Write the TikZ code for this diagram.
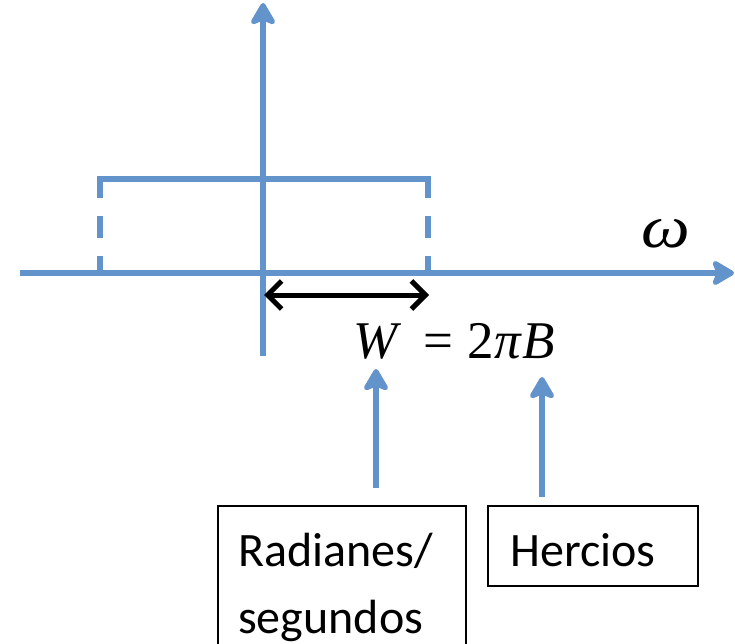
\documentclass[tikz,border=0pt]{standalone}
\usepackage{fontspec}
\setmainfont{Carlito}
\newfontfamily\tnr{Liberation Serif}
\usetikzlibrary{arrows.meta}
\definecolor{axisblue}{RGB}{98,148,203}
\tikzset{
  blueline/.style={draw=axisblue, line width=5.5pt},
  bluearrow/.style={blueline, -{Stealth[length=26pt,width=30pt,inset=6pt,round]}},
  lbl/.style={font=\fontsize{48}{58}\selectfont, inner sep=0pt, anchor=base west},
  mathlbl/.style={font=\tnr\fontsize{53}{60}\selectfont, inner sep=0pt, anchor=base west},
  box/.style={draw=black, line width=2pt, inner sep=0pt, anchor=north west},
}
\begin{document}
\begin{tikzpicture}[x=1pt,y=-1pt]
\useasboundingbox (0,0) rectangle (735,644);
% axis coordinates
\coordinate (xl) at (20,273);
\coordinate (xr) at (734,273);
\coordinate (yb) at (263,356);
\coordinate (yt) at (263,3);
% rectangle corners
\coordinate (tl) at (97.25,179);
\coordinate (tr) at (430.75,179);
\coordinate (lt) at (100,176.25);
\coordinate (lb) at (100,273);
\coordinate (rt) at (428,176.25);
\coordinate (rb) at (428,273);
% rectangle (pulse)
\draw[blueline] (tl) -- (tr);
\draw[blueline, dash pattern=on 22pt off 18pt] (lt) -- (lb);
\draw[blueline, dash pattern=on 22pt off 18pt] (rt) -- (rb);
% axes
\draw[bluearrow] (xl) -- (xr);
\draw[bluearrow] (yb) -- (yt);
% omega label
\node[mathlbl, font=\tnr\itshape\fontsize{60}{60}\selectfont] (omega) at (641,247) {\scalebox{1.15}[1]{ω}};
% width arrow
\coordinate (wl) at (264,295);
\coordinate (wr) at (429,295);
\draw[line width=5pt, {Straight Barb[length=14pt,width=28pt]}-{Straight Barb[length=14pt,width=28pt]}] (wl) -- (wr);
% formula
\node[mathlbl] (W) at (353,358) {\itshape W};
\node[mathlbl] (eq) at (423,358) {=\hspace{0.28em}2\textit{π}\textit{B}};
% pointer arrows
\coordinate (a1b) at (376,488);
\coordinate (a1t) at (376,369);
\coordinate (a2b) at (542,497);
\coordinate (a2t) at (542,377);
\draw[bluearrow] (a1b) -- (a1t);
\draw[bluearrow] (a2b) -- (a2t);
% boxes
\node[box, minimum width=248pt, minimum height=160pt] (radbox) at (217,505) {};
\node[box, minimum width=210pt, minimum height=80pt] (herbox) at (487,505) {};
\node[lbl] (rad1) at (238,566) {Radianes/};
\node[lbl] (rad2) at (238,633) {segundos};
\node[lbl] (her) at (510,566) {Hercios};
\end{tikzpicture}
\end{document}
